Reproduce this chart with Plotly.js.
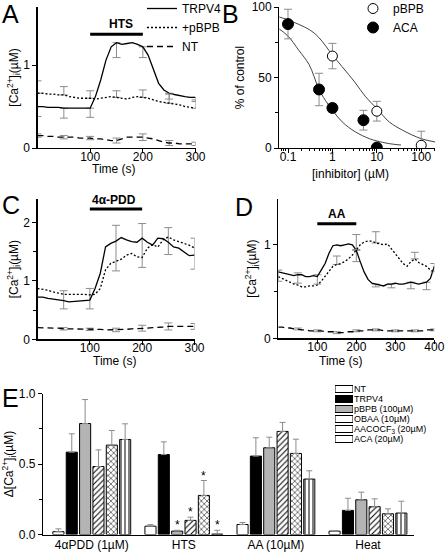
<!DOCTYPE html>
<html><head><meta charset="utf-8">
<script src="https://cdn.plot.ly/plotly-3.0.1.min.js"></script>
<style>html,body{margin:0;padding:0;background:#fff}#chart{width:446px;height:554px}</style>
</head><body><div id="chart"></div>
<script>
// ---------- Panel A : HTS ----------
const timeA = [0,10,20,30,40,50,60,70,80,90,100,110,120,130,140,150,160,170,180,190,200,210,220,230,240,250,260,270,280,290,300];
const a_trpv4 = [0.50,0.50,0.49,0.49,0.49,0.48,0.48,0.48,0.48,0.48,0.48,0.62,0.82,1.06,1.22,1.27,1.25,1.26,1.27,1.25,1.22,1.12,0.94,0.78,0.70,0.66,0.645,0.63,0.62,0.61,0.61];
const a_pbpb  = [0.66,0.66,0.65,0.65,0.64,0.64,0.62,0.61,0.60,0.60,0.60,0.59,0.60,0.61,0.62,0.61,0.60,0.59,0.61,0.62,0.61,0.60,0.58,0.56,0.55,0.54,0.53,0.52,0.50,0.49,0.48];
const a_nt    = [0.15,0.15,0.14,0.14,0.13,0.13,0.13,0.13,0.12,0.12,0.12,0.11,0.11,0.10,0.09,0.09,0.11,0.13,0.13,0.13,0.13,0.12,0.11,0.09,0.07,0.06,0.06,0.05,0.05,0.05,0.05];
const a_errT = [0,50,100,150,200,250,300];
const a_trpv4_errMinus = [0.12,0.12,0.11,0.18,0.13,0.07,0.05];
const a_pbpb_errPlus   = [0.15,0.10,0.09,0.08,0.09,0.11,0.10];
const a_nt_err         = [0.02,0.02,0.02,0.03,0.04,0.03,0.02];
const stimA = [100,200]; const stimA_label = 'HTS';

// ---------- Panel B : dose response ----------
const b_pbpb_conc = [1,10,100];
const b_pbpb_val  = [65.2,26.1,1.9];
const b_pbpb_err  = [9,7,10];
const b_aca_conc  = [0.1,0.5,1,5,10];
const b_aca_val   = [87.9,41.5,28.4,19.7,0.3];
const b_aca_err   = [10.5,11.5,3,7,1];
const b_fit_pbpb_x = [0.054,0.1,0.3,0.49,1,1.66,3.16,5.6,10,19,38,100,204];
const b_fit_pbpb_y = [93.6,90.8,84,78.5,66,57.6,46.9,36.3,28.0,18.5,12.6,6.6,4.3];
const b_fit_aca_x  = [0.054,0.1,0.174,0.3,0.49,0.69,1,1.66,3.3,6.8,10,19,35];
const b_fit_aca_y  = [86.0,79.4,69.4,59,42.2,33.9,26.8,18.5,11.4,6.6,5.0,3.1,2.1];

// ---------- Panel C : 4alpha-PDD ----------
const timeC = [0,10,20,30,40,50,60,70,80,90,100,110,120,130,140,150,160,170,180,190,200,210,220,230,240,250,260,270,280,290,300];
const c_trpv4 = [0.72,0.72,0.70,0.69,0.67,0.66,0.64,0.65,0.65,0.66,0.67,0.87,1.13,1.58,1.64,1.68,1.74,1.70,1.67,1.66,1.73,1.66,1.61,1.73,1.72,1.66,1.58,1.56,1.50,1.43,1.44];
const c_pbpb  = [0.87,0.86,0.84,0.81,0.79,0.77,0.77,0.77,0.78,0.77,0.76,0.77,0.87,1.19,1.30,1.34,1.37,1.44,1.47,1.41,1.40,1.56,1.62,1.58,1.70,1.75,1.70,1.67,1.64,1.61,1.56];
const c_nt    = [0.20,0.20,0.19,0.19,0.19,0.18,0.18,0.18,0.17,0.17,0.17,0.17,0.17,0.16,0.16,0.16,0.17,0.17,0.18,0.18,0.19,0.19,0.20,0.20,0.21,0.22,0.22,0.22,0.22,0.22,0.22];
const c_errT = [50,100,150,200,250,300];
const c_trpv4_errPlus  = [0.17,0.20,0.27,0.25,0.25,0.29];
const c_trpv4_errMinus = [0.14,0.15,0.51,0.50,0.21,0.24];
const c_nt_err         = [0.02,0.02,0.03,0.05,0.06,0.05];
const stimC = [100,200]; const stimC_label = '4α-PDD';

// ---------- Panel D : AA ----------
const timeD = [0,10,20,30,40,50,60,70,80,90,100,110,120,130,140,150,160,170,180,190,200,210,220,230,240,250,260,270,280,290,300,310,320,330,340,350,360,370,380,390,400];
const d_trpv4 = [0.71,0.70,0.69,0.68,0.67,0.68,0.68,0.66,0.66,0.67,0.66,0.73,0.80,0.91,0.99,1.00,0.99,1.00,1.01,1.00,0.94,0.82,0.71,0.63,0.59,0.58,0.57,0.56,0.58,0.58,0.59,0.58,0.58,0.59,0.60,0.59,0.58,0.59,0.60,0.64,0.77];
const d_pbpb  = [0.66,0.64,0.62,0.60,0.58,0.57,0.55,0.55,0.56,0.56,0.57,0.61,0.66,0.71,0.77,0.79,0.80,0.82,0.85,0.89,0.95,1.00,1.03,1.04,1.04,1.02,1.01,1.00,1.01,0.96,0.91,0.86,0.80,0.77,0.82,0.85,0.81,0.79,0.77,0.73,0.71];
const d_nt    = [0.12,0.12,0.11,0.11,0.10,0.10,0.09,0.09,0.08,0.08,0.08,0.08,0.07,0.07,0.07,0.06,0.06,0.06,0.07,0.07,0.08,0.08,0.08,0.09,0.09,0.09,0.09,0.08,0.08,0.08,0.08,0.08,0.08,0.08,0.08,0.08,0.08,0.08,0.09,0.09,0.09];
const d_trpv4_errT     = [0,50,100,200,250,290,340,380];
const d_trpv4_errPlus  = [0.02,0.02,0.02,0,0,0,0,0];
const d_trpv4_errMinus = [0.10,0.09,0.08,0.12,0.03,0.04,0.07,0.08];
const d_pbpb_errT      = [150,200,250,350,400];
const d_pbpb_errPlus   = [0.09,0.16,0.12,0.07,0.09];
const d_nt_errT        = [50,100,150,200,250,300,350,400];
const d_nt_err         = [0.01,0.01,0.01,0.01,0.01,0.01,0.01,0.01];
const stimD = [100,200]; const stimD_label = 'AA';

// ---------- Panel E : summary bars ----------
const groupsE = ['4αPDD (1µM)','HTS','AA (10µM)','Heat'];
const seriesE = ['NT','TRPV4','pBPB (100µM)','OBAA (10µM)','AACOCF<sub>3</sub> (20µM)','ACA (20µM)'];
const e_nt     = [0.020,0.059,0.071,0.024];
const e_trpv4  = [0.584,0.567,0.556,0.171];
const e_pbpb   = [0.787,0.024,0.615,0.246];
const e_obaa   = [0.482,0.100,0.731,0.197];
const e_aacocf = [0.634,0.277,0.575,0.147];
const e_aca    = [0.674,0.003,0.393,0.152];
const e_nt_err     = [0.020,0.011,0.014,0.004];
const e_trpv4_err  = [0.130,0.090,0.130,0.086];
const e_pbpb_err   = [0.170,0.006,0.075,0.054];
const e_obaa_err   = [0.118,0.023,0.064,0.056];
const e_aacocf_err = [0.104,0.106,0.101,0.035];
const e_aca_err    = [0.111,0.027,0.059,0.084];
const e_starGroup  = 'HTS';
const e_starSeries = [2,3,4,5];
const legendLen = [1,1,1,1,1,1];

// ---------- helpers ----------
const W = 446, H = 554;
const FONT = 'Liberation Sans, Arial, Helvetica, sans-serif';
const GREY = '#8c8c8c';
const DOT = '2px,2px', DASH = '6px,4px';
const xd = (a,b) => [a/W, b/W];
const yd = (top,bottom) => [1-bottom/H, 1-top/H];
function errAt(times, errT, vals){
  return times.map(t => { const i = errT.indexOf(t); return i < 0 ? NaN : vals[i]; });
}
const zeros = n => new Array(n).fill(0);

const lineTrace = (x,y,dash,name,xa,ya,legend,show,err) => {
  const t = {type:'scatter', mode:'lines', x:x, y:y, name:name, xaxis:xa, yaxis:ya,
    line:{color:'black', width:1.3, dash:dash}, showlegend:show, legend:legend, hoverinfo:'skip'};
  if (err) t.error_y = Object.assign({type:'data', color:GREY, thickness:1, width:4}, err);
  return t;
};

const traces = [];
// Panel A
traces.push(lineTrace(timeA, a_trpv4, 'solid', 'TRPV4', 'x', 'y', 'legend', true,
  {symmetric:false, array: errAt(timeA, a_errT, zeros(a_errT.length)), arrayminus: errAt(timeA, a_errT, a_trpv4_errMinus)}));
traces.push(lineTrace(timeA, a_pbpb, DOT, '+pBPB', 'x', 'y', 'legend', true,
  {symmetric:false, array: errAt(timeA, a_errT, a_pbpb_errPlus), arrayminus: errAt(timeA, a_errT, zeros(a_errT.length))}));
traces.push(lineTrace(timeA, a_nt, DASH, 'NT', 'x', 'y', 'legend', true,
  {symmetric:true, array: errAt(timeA, a_errT, a_nt_err)}));

// Panel B
traces.push({type:'scatter', mode:'lines', x:b_fit_pbpb_x, y:b_fit_pbpb_y, xaxis:'x2', yaxis:'y2',
  line:{color:'#444', width:1, shape:'spline'}, showlegend:false, hoverinfo:'skip'});
traces.push({type:'scatter', mode:'lines', x:b_fit_aca_x, y:b_fit_aca_y, xaxis:'x2', yaxis:'y2',
  line:{color:'#444', width:1, shape:'spline'}, showlegend:false, hoverinfo:'skip'});
traces.push({type:'scatter', mode:'markers', x:b_pbpb_conc, y:b_pbpb_val, name:'pBPB', xaxis:'x2', yaxis:'y2',
  marker:{symbol:'circle', size:10, color:'white', line:{color:'black', width:1}},
  error_y:{type:'data', array:b_pbpb_err, color:GREY, thickness:1, width:4},
  legend:'legend2', showlegend:true});
traces.push({type:'scatter', mode:'markers', x:b_aca_conc, y:b_aca_val, name:'ACA', xaxis:'x2', yaxis:'y2',
  marker:{symbol:'circle', size:11, color:'black', line:{color:'black', width:1}},
  error_y:{type:'data', array:b_aca_err, color:GREY, thickness:1, width:4},
  legend:'legend2', showlegend:true});

// Panel C
traces.push(lineTrace(timeC, c_trpv4, 'solid', 'TRPV4', 'x3', 'y3', 'legend', false,
  {symmetric:false, array: errAt(timeC, c_errT, c_trpv4_errPlus), arrayminus: errAt(timeC, c_errT, c_trpv4_errMinus)}));
traces.push(lineTrace(timeC, c_pbpb, DOT, '+pBPB', 'x3', 'y3', 'legend', false, null));
traces.push(lineTrace(timeC, c_nt, DASH, 'NT', 'x3', 'y3', 'legend', false,
  {symmetric:true, array: errAt(timeC, c_errT, c_nt_err)}));

// Panel D
traces.push(lineTrace(timeD, d_trpv4, 'solid', 'TRPV4', 'x4', 'y4', 'legend', false,
  {symmetric:false, array: errAt(timeD, d_trpv4_errT, d_trpv4_errPlus), arrayminus: errAt(timeD, d_trpv4_errT, d_trpv4_errMinus)}));
traces.push(lineTrace(timeD, d_pbpb, DOT, '+pBPB', 'x4', 'y4', 'legend', false,
  {symmetric:false, array: errAt(timeD, d_pbpb_errT, d_pbpb_errPlus), arrayminus: errAt(timeD, d_pbpb_errT, zeros(d_pbpb_errT.length))}));
traces.push(lineTrace(timeD, d_nt, DASH, 'NT', 'x4', 'y4', 'legend', false,
  {symmetric:true, array: errAt(timeD, d_nt_errT, d_nt_err)}));

// Panel E
const eVals = [e_nt, e_trpv4, e_pbpb, e_obaa, e_aacocf, e_aca];
const eErrs = [e_nt_err, e_trpv4_err, e_pbpb_err, e_obaa_err, e_aacocf_err, e_aca_err];
const eColors = ['white','black','#b4b4b4','white','white','white'];
const ePatterns = ['','','','/','x','|'];
seriesE.forEach((name,i) => {
  traces.push({type:'bar', x:groupsE, y:eVals[i], name:name, xaxis:'x5', yaxis:'y5', showlegend:false,
    marker:{color:eColors[i], line:{color:'black', width:1},
      pattern:{shape:ePatterns[i], fgcolor:'black', bgcolor:eColors[i], size:4, solidity:0.25}},
    error_y:{type:'data', symmetric:false, array:eErrs[i], arrayminus:zeros(groupsE.length), color:GREY, thickness:1, width:3},
    hoverinfo:'skip'});
});
// legend for E, drawn as a tiny horizontal bar chart of swatches
traces.push({type:'bar', orientation:'h', y:seriesE, x:legendLen, width:0.7, xaxis:'x6', yaxis:'y6', showlegend:false,
  marker:{color:eColors, line:{color:'black', width:1},
    pattern:{shape:ePatterns, fgcolor:'black', bgcolor:eColors, size:4, solidity:0.25}}, hoverinfo:'skip'});

// ---------- layout ----------
const tfont = {family:FONT, size:12, color:'black'};
const baseAx = {showline:true, linecolor:'black', linewidth:1.2, ticks:'outside', ticklen:4, tickwidth:1,
  tickcolor:'black', showgrid:false, zeroline:false, tickfont:tfont, fixedrange:true};
const ax = o => Object.assign({}, baseAx, o);
const caTitle = '[Ca<sup>2+</sup>]<sub>i</sub>(µM)';
const XSTAND = -7;

const BARGAP = 0.13;
const nS = seriesE.length;
const annotations = [];
// panel letters
[['A',0,-2],['B',220,-2],['C',0,189],['D',233,191],['E',0,382]].forEach(([t,x,y]) => {
  annotations.push({text:t, xref:'paper', yref:'paper', x:x/W, y:1-y/H, xanchor:'left', yanchor:'top',
    showarrow:false, font:{family:FONT, size:25, color:'black'}});
});
// x-axis titles
[['Time (s)',114,169],['[inhibitor] (µM)',350,174],['Time (s)',115,361],['Time (s)',341,361]].forEach(([t,x,y]) => {
  annotations.push({text:t, xref:'paper', yref:'paper', x:x/W, y:1-y/H, xanchor:'center', yanchor:'middle',
    showarrow:false, font:tfont});
});
// stimulus labels
annotations.push({text:'<b>'+stimA_label+'</b>', xref:'x', yref:'y', x:(stimA[0]+stimA[1])/2+8, y:1.49, showarrow:false, font:{family:FONT,size:12}});
annotations.push({text:'<b>'+stimC_label+'</b>', xref:'x3', yref:'y3', x:stimC[0], y:2.38, xanchor:'left', showarrow:false, font:{family:FONT,size:12}});
annotations.push({text:'<b>'+stimD_label+'</b>', xref:'x4', yref:'y4', x:(stimD[0]+stimD[1])/2, y:1.33, showarrow:false, font:{family:FONT,size:12}});
// significance stars
const gi = groupsE.indexOf(e_starGroup);
e_starSeries.forEach(k => {
  annotations.push({text:'*', xref:'x5', yref:'y5', x: gi + (k - (nS-1)/2) * (1-BARGAP)/nS,
    y: eVals[k][gi] + eErrs[k][gi], yanchor:'bottom', yshift:-4, showarrow:false, font:{family:FONT, size:12}});
});

const shapes = [
  {type:'line', xref:'x', yref:'y', x0:stimA[0], x1:stimA[1], y0:1.37, y1:1.37, line:{color:'black', width:3}},
  {type:'line', xref:'x3', yref:'y3', x0:stimC[0], x1:stimC[1], y0:2.23, y1:2.23, line:{color:'black', width:3}},
  {type:'line', xref:'x4', yref:'y4', x0:stimD[0], x1:stimD[1], y0:1.225, y1:1.225, line:{color:'black', width:3}}
];

const minorLog = [];
[0.01,0.1,1,10,100].forEach(d => { for (let m=2;m<=9;m++) minorLog.push(d*m); });

const layout = {
  width:W, height:H, autosize:false, margin:{l:0,r:0,t:0,b:0,pad:0,autoexpand:false},
  paper_bgcolor:'white', plot_bgcolor:'white', font:{family:FONT, size:12, color:'black'},
  barmode:'group', bargap:BARGAP, bargroupgap:0.17,
  showlegend:true,
  legend:{x:142/W, y:1+6/H, xanchor:'left', yanchor:'top', bgcolor:'rgba(0,0,0,0)', font:{family:FONT,size:12}, itemwidth:30, tracegroupgap:0},
  legend2:{x:353/W, y:1+6/H, xanchor:'left', yanchor:'top', bgcolor:'rgba(0,0,0,0)', font:{family:FONT,size:12}, itemwidth:30},
  xaxis: ax({domain:xd(37.5,195.5), range:[0,300], tickvals:[100,200,300], anchor:'y', ticklabelstandoff:XSTAND}),
  yaxis: ax({domain:yd(7,148), range:[0,1.70], tickvals:[0,1], anchor:'x',
    title:{text:caTitle, font:tfont, standoff:2}}),
  xaxis2: ax({domain:xd(279.3,435), type:'log', range:[-1.196,2.31], tickvals:[0.1,1,10,100], ticktext:['0.1','1','10','100'], anchor:'y2', ticklabelstandoff:XSTAND,
    minor:{ticks:'outside', ticklen:2, tickcolor:'black', tickvals:minorLog, showgrid:false}}),
  yaxis2: ax({domain:yd(7,148), range:[0,100], tickvals:[0,50,100], anchor:'x2',
    minor:{ticks:'outside', ticklen:3, tickcolor:'black', tickvals:[25,75], showgrid:false},
    title:{text:'% of control', font:tfont, standoff:4}}),
  xaxis3: ax({domain:xd(37.5,194.5), range:[0,300], tickvals:[100,200,300], anchor:'y3', ticklabelstandoff:XSTAND}),
  yaxis3: ax({domain:yd(199,339.3), range:[0,2.40], tickvals:[0,1,2], anchor:'x3',
    minor:{ticks:'outside', ticklen:3, tickcolor:'black', dtick:0.5, tick0:0, showgrid:false},
    title:{text:caTitle, font:tfont, standoff:2}}),
  xaxis4: ax({domain:xd(278.3,434.3), range:[0,400], tickvals:[100,200,300,400], anchor:'y4', ticklabelstandoff:XSTAND}),
  yaxis4: ax({domain:yd(199,338.3), range:[0,1.49], tickvals:[0,1], anchor:'x4',
    minor:{ticks:'outside', ticklen:3, tickcolor:'black', dtick:0.5, tick0:0, showgrid:false},
    title:{text:caTitle, font:tfont, standoff:4}}),
  xaxis5: ax({domain:xd(43,414), type:'category', range:[-0.53,3.5], ticks:'', anchor:'y5', ticklabelstandoff:-1}),
  yaxis5: ax({domain:yd(393.5,534.5), range:[0,1.0], tickvals:[0,0.5,1], tickformat:'.1f', anchor:'x5',
    minor:{ticks:'outside', ticklen:3, tickcolor:'black', dtick:0.25, tick0:0, showgrid:false},
    title:{text:'Δ'+caTitle, font:tfont, standoff:6}}),
  xaxis6: {domain:xd(335,353), range:[0,1], visible:false, anchor:'y6', fixedrange:true},
  yaxis6: {domain:yd(384,444), type:'category', autorange:'reversed', side:'right', anchor:'x6',
    tickmode:'array', tickvals:seriesE, ticktext:seriesE,
    showline:false, ticks:'', showgrid:false, zeroline:false, tickfont:{family:FONT, size:9, color:'black'}, fixedrange:true},
  annotations: annotations,
  shapes: shapes
};

Plotly.newPlot('chart', traces, layout, {staticPlot:true, displayModeBar:false});
</script></body></html>
